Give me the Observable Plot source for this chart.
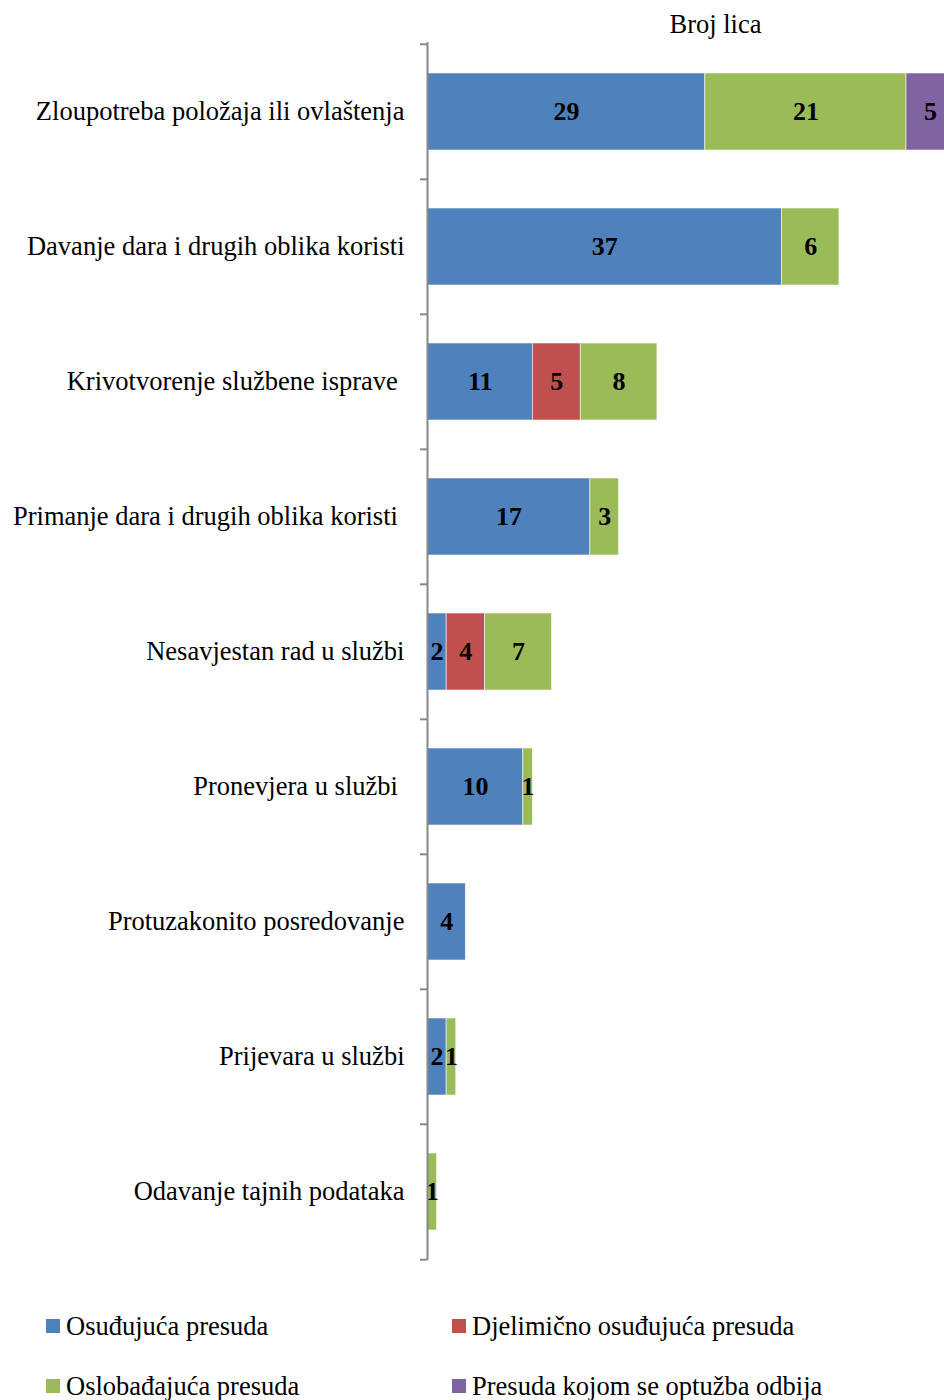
<!DOCTYPE html>
<html>
<head>
<meta charset="utf-8">
<script src="https://cdn.jsdelivr.net/npm/d3@7"></script>
<script src="https://cdn.jsdelivr.net/npm/@observablehq/plot@0.6"></script>
<style>
  html, body { margin: 0; padding: 0; background: #fff; overflow: hidden; }
  body { width: 944px; height: 1400px; position: relative; font-family: "Liberation Serif", "Times New Roman", serif; }
  #chart { position: absolute; left: 0; top: 0; }
  .legend-item { position: absolute; display: flex; align-items: center; font-size: 26.5px; color: #000; white-space: nowrap; line-height: 1; }
  .legend-item .sw { width: 14px; height: 14px; margin-right: 6px; display: inline-block; }
</style>
</head>
<body>
<div id="chart"></div>
<div id="legend"></div>
<script>
const categories = [
  "Zloupotreba položaja ili ovlaštenja",
  "Davanje dara i drugih oblika koristi",
  "Krivotvorenje službene isprave",
  "Primanje dara i drugih oblika koristi",
  "Nesavjestan rad u službi",
  "Pronevjera u službi",
  "Protuzakonito posredovanje",
  "Prijevara u službi",
  "Odavanje tajnih podataka"
];
const trailingSpace = ["Krivotvorenje službene isprave", "Primanje dara i drugih oblika koristi", "Pronevjera u službi"];
const seriesNames = ["Osuđujuća presuda", "Djelimično osuđujuća presuda", "Oslobađajuća presuda", "Presuda kojom se optužba odbija"];
const seriesColors = ["#4F81BD", "#C0504D", "#9BBB59", "#8064A2"];
const osudjujuca =    [29, 37, 11, 17, 2, 10, 4, 2, 0];
const djelimicno =    [0, 0, 5, 0, 4, 0, 0, 0, 0];
const oslobadjajuca = [21, 6, 8, 3, 7, 1, 0, 1, 1];
const odbija =        [5, 0, 0, 0, 0, 0, 0, 0, 0];
const axisTitle = "Broj lica";

const seriesValues = [osudjujuca, djelimicno, oslobadjajuca, odbija];
const data = [];
categories.forEach((c, i) => {
  seriesNames.forEach((s, j) => {
    const v = seriesValues[j][i];
    if (v > 0) data.push({category: c, series: s, value: v});
  });
});

const W = 944, H = 1290, mL = 427, mT = 42, mB = 30;
const step = (H - mT - mB) / categories.length;
const font = "'Liberation Serif', 'Times New Roman', serif";

const chart = Plot.plot({
  width: W,
  height: H,
  marginLeft: mL,
  marginRight: 0,
  marginTop: mT,
  marginBottom: mB,
  style: {fontFamily: font, fontSize: "26.5px", color: "#000", background: "transparent"},
  x: {domain: [0, (W - mL) / 9.58], axis: null},
  y: {domain: categories, paddingInner: 0.43, paddingOuter: 0.215, axis: null, label: null},
  color: {domain: seriesNames, range: seriesColors},
  marks: [
    Plot.barX(data, Plot.stackX({
      x: "value", y: "category", fill: "series", z: "series", order: seriesNames,
      stroke: "#ffffff", strokeWidth: 0.8, strokeOpacity: 0.7, clip: true
    })),
    Plot.text(data, Plot.stackX({
      x: "value", y: "category", z: "series", order: seriesNames,
      text: d => String(d.value), fontWeight: "bold", fontSize: 26, fill: "#000", fontFamily: font
    })),
    // tick marks at category boundaries
    Plot.axisY({anchor: "left", tickSize: 7, text: null, label: null, stroke: "#888", strokeWidth: 2, dy: -step / 2}),
    Plot.axisY([categories[categories.length - 1]], {anchor: "left", tickSize: 7, text: null, label: null, stroke: "#888", strokeWidth: 2, dy: step / 2}),
    // category labels
    Plot.axisY({anchor: "left", tickSize: 0, tickPadding: 23, fontSize: 26.5, fill: "#000", label: null,
      tickFormat: d => trailingSpace.includes(d) ? d + "\u00A0" : d}),
    Plot.ruleX([0], {stroke: "#888", strokeWidth: 2}),
    Plot.text([axisTitle], {frameAnchor: "top-left", lineAnchor: "middle", dx: 715 - mL, dy: 24 - mT, textAnchor: "middle", fontSize: 26.5, fill: "#000", fontFamily: font})
  ]
});
document.getElementById("chart").appendChild(chart);

const legendPos = [[46, 1326], [452, 1326], [46, 1386], [452, 1386]];
const legend = document.getElementById("legend");
seriesNames.forEach((s, i) => {
  const item = document.createElement("div");
  item.className = "legend-item";
  item.style.left = legendPos[i][0] + "px";
  item.style.top = (legendPos[i][1] - 13) + "px";
  const sw = document.createElement("span");
  sw.className = "sw";
  sw.style.background = seriesColors[i];
  item.appendChild(sw);
  item.appendChild(document.createTextNode(s));
  legend.appendChild(item);
});
</script>
</body>
</html>
